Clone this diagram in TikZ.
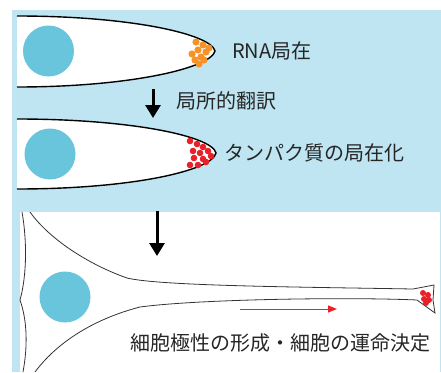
\documentclass[tikz,border=0pt]{standalone}
\usepackage{fontspec}
\setmainfont{Noto Sans CJK JP}
\usetikzlibrary{arrows.meta}

\definecolor{bgblue}{RGB}{190,229,241}
\definecolor{nucblue}{RGB}{104,197,219}
\definecolor{rnaorange}{RGB}{247,146,40}
\definecolor{protred}{RGB}{234,32,40}

\begin{document}
\begin{tikzpicture}[x=1pt, y=-1pt,
    nucleus/.style={fill=nucblue},
    label/.style={anchor=west, inner sep=0pt, text=black!85, font=\fontsize{20}{20}\selectfont},
    step arrow/.style={line width=3pt, -{Triangle[width=15pt,length=13pt]}},
    dir arrow/.style={protred, line width=1pt, -{Triangle[width=7pt,length=9pt]}}]
    \useasboundingbox (0,0) rectangle (441,372);
    \fill[bgblue] (12,10) rectangle (441,372);

    % first cell: RNA at the tip
    \fill[white] (17,16) .. controls (130,16) and (211,34) .. (215,51) .. controls (211,68) and (130,87) .. (17,87) -- cycle;
    \draw[line width=1.4pt] (17,16) .. controls (130,16) and (211,34) .. (215,51) .. controls (211,68) and (130,87) .. (17,87);
    \fill[nucleus] (48.5,51) circle (25.5);
    \foreach \x/\y in {196/42, 203/45, 198/50, 206/52, 192/54, 201/57, 209/48, 195/60, 204/60, 199/64}
        \fill[rnaorange] (\x,\y) circle (3.6);
    \node[label] (rna) at (232,51) {RNA局在};

    \coordinate (a1s) at (153,89);
    \coordinate (a1e) at (153,118);
    \draw[step arrow] (a1s) -- (a1e);
    \node[label] (trans) at (176,101) {局所的翻訳};

    % second cell: protein at the tip
    \fill[white] (17,119) .. controls (130,119) and (212,136) .. (216,153) .. controls (212,171) and (130,189) .. (17,189) -- cycle;
    \draw[line width=1.4pt] (17,119) .. controls (130,119) and (212,136) .. (216,153) .. controls (212,171) and (130,189) .. (17,189);
    \fill[nucleus] (50,154) circle (25.5);
    \foreach \x/\y in {190/141, 197/144, 203/147, 193/151, 200/153, 208/151, 211/156, 203/159, 194/158, 198/165, 206/162, 190/165}
        \fill[protred] (\x,\y) circle (3.3);
    \node[label] (prot) at (224,153) {タンパク質の局在化};

    % polarised cell
    \fill[white] (20,212) rectangle (440,372);
    \coordinate (a2s) at (157,211);
    \coordinate (a2e) at (157,256);
    \draw[step arrow] (a2s) -- (a2e);
    \draw[line width=0.8pt, black!80] (22,212) .. controls (27,240) and (27,275) .. (20,300) .. controls (27,320) and (28,345) .. (23,372);
    \draw[line width=0.8pt, black!80] (30,212) .. controls (50,240) and (90,265) .. (127,278) .. controls (160,286) and (300,287) .. (413,289)
        -- (434,285) -- (433,300) -- (435,313) -- (417,300) .. controls (350,297) and (200,299) .. (140,307)
        .. controls (90,320) and (55,345) .. (35,372);
    \fill[nucleus] (65,297) circle (25.5);
    \foreach \x/\y in {423/293, 428/295, 424/299, 429/300, 426/303}
        \fill[protred] (\x,\y) circle (3);
    \coordinate (r1s) at (240,309);
    \coordinate (r1e) at (337,309);
    \draw[dir arrow] (r1s) -- (r1e);
    \node[label] (fate) at (130,343) {細胞極性の形成・細胞の運命決定};
\end{tikzpicture}
\end{document}
